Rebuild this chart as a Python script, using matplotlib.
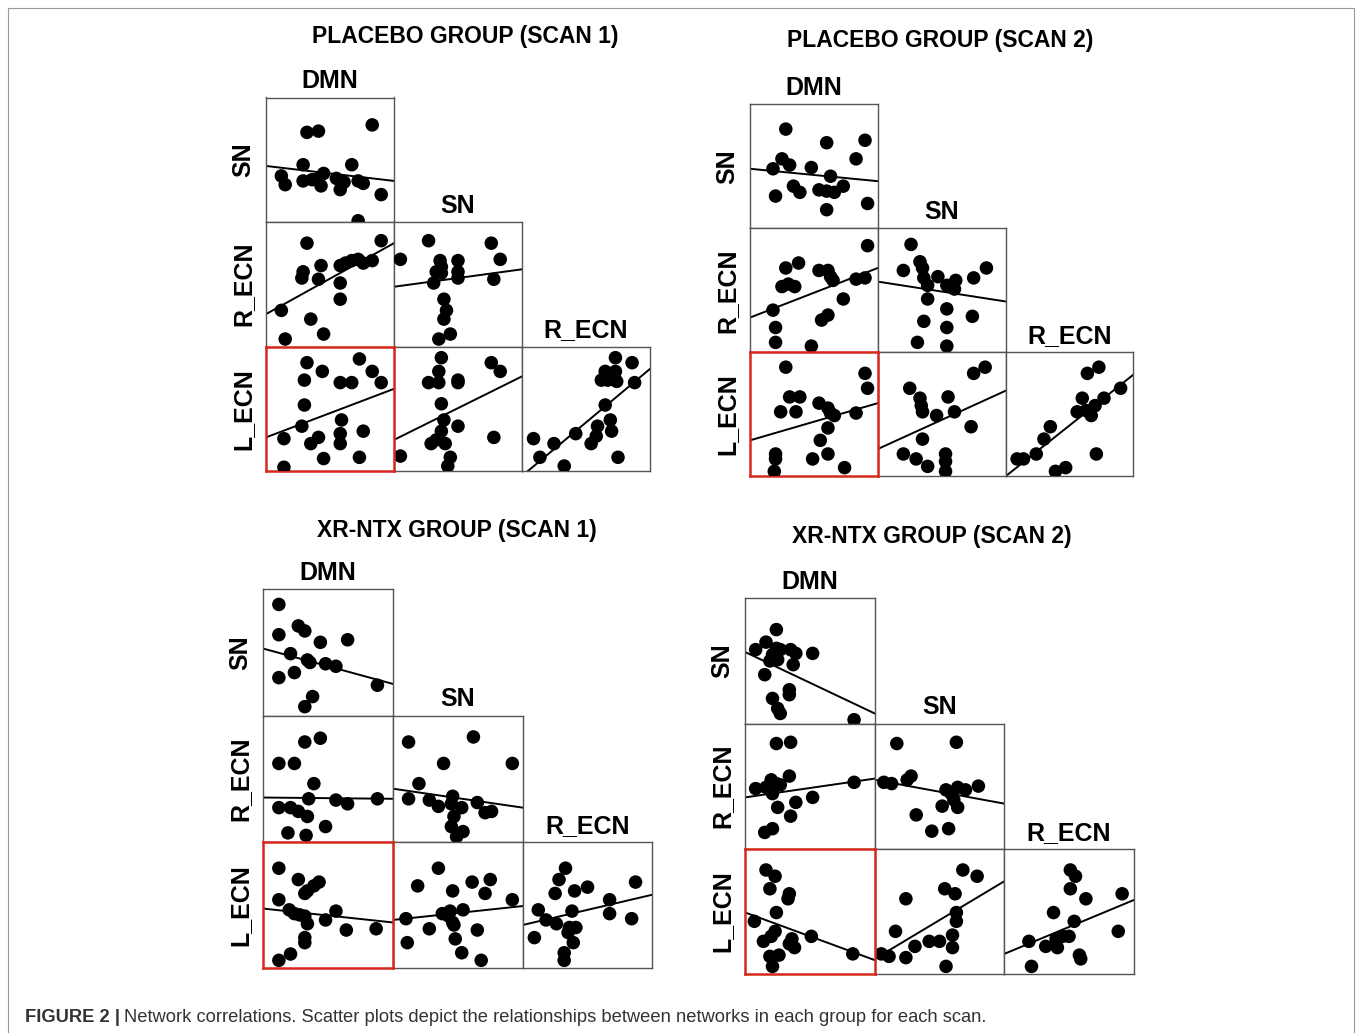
import matplotlib
matplotlib.use("Agg")
import matplotlib.pyplot as plt
from matplotlib.patches import Rectangle

W, H = 1357, 1033
plt.rcParams['font.family'] = ['Liberation Sans', 'DejaVu Sans']

networks = ["DMN", "SN", "R_ECN", "L_ECN"]

# values, 0-100 scale inside each cell: (x values, y values)
# placebo group, scan 1
pbo1_sn_dmn = ([32, 41, 83, 29, 67, 12, 15, 29, 36, 45, 43, 55, 58, 61, 72, 76, 90, 72, 41],
               [72, 73, 78, 46, 46, 37, 30, 33, 34, 39, 29, 35, 26, 32, 33, 31, 22, 1, 35])
pbo1_recn_dmn = ([32, 90, 29, 28, 43, 41, 58, 62, 67, 72, 76, 83, 58, 58, 12, 35, 45, 15],
                 [83, 85, 60, 55, 65, 54, 65, 67, 69, 70, 67, 69, 51, 38, 29, 22, 10, 6])
pbo1_recn_sn = ([5, 27, 76, 83, 36, 37, 33, 37, 50, 50, 50, 31, 78, 39, 41, 39, 44, 35],
                [70, 85, 83, 70, 69, 64, 60, 59, 69, 60, 55, 51, 54, 38, 29, 22, 10, 6])
pbo1_lecn_dmn = ([32, 44, 73, 83, 90, 30, 58, 67, 30, 28, 59, 14, 35, 41, 58, 58, 76, 45, 73, 14],
                 [87, 80, 90, 80, 71, 73, 71, 71, 53, 36, 41, 26, 22, 27, 30, 22, 32, 10, 11, 3])
pbo1_lecn_sn = ([37, 35, 76, 83, 27, 35, 50, 50, 37, 39, 50, 37, 33, 40, 29, 78, 5, 44, 42],
                [91, 80, 87, 80, 71, 71, 73, 71, 54, 41, 36, 32, 25, 22, 22, 27, 12, 11, 4])
pbo1_lecn_recn = ([73, 86, 65, 73, 62, 67, 74, 88, 65, 69, 59, 70, 58, 54, 42, 25, 9, 14, 33, 75],
                  [91, 87, 80, 80, 73, 73, 72, 71, 53, 41, 36, 32, 28, 22, 30, 22, 26, 11, 4, 11])
# fitted line: value at left edge, value at right edge
pbo1_fits = [(45, 33), (26, 83), (48, 62), (27, 66), (25, 76), (-4, 82)]

# placebo group, scan 2
pbo2_sn_dmn = ([28, 60, 90, 83, 25, 18, 31, 48, 63, 34, 39, 54, 60, 66, 73, 20, 60, 92],
               [80, 69, 71, 56, 56, 48, 51, 49, 42, 34, 29, 31, 30, 29, 34, 26, 15, 20])
pbo2_recn_dmn = ([92, 28, 38, 54, 61, 63, 65, 25, 30, 35, 83, 90, 73, 18, 56, 61, 20, 20, 48],
                 [86, 68, 72, 66, 66, 61, 58, 53, 55, 53, 59, 60, 43, 34, 26, 30, 20, 8, 5])
pbo2_recn_sn = ([26, 20, 33, 35, 36, 39, 47, 54, 61, 60, 75, 85, 39, 54, 36, 54, 74, 31, 54],
                [87, 66, 73, 68, 60, 54, 61, 54, 58, 51, 60, 68, 43, 35, 25, 20, 29, 8, 5])
pbo2_lecn_dmn = ([28, 90, 92, 31, 39, 24, 36, 54, 61, 63, 66, 83, 61, 55, 61, 20, 20, 49, 74, 19],
                 [88, 83, 71, 64, 64, 52, 52, 59, 55, 51, 49, 51, 39, 29, 18, 18, 14, 14, 7, 4])
pbo2_lecn_sn = ([75, 84, 25, 33, 34, 35, 46, 55, 60, 73, 35, 20, 30, 39, 53, 53, 53],
                [83, 88, 71, 63, 57, 52, 49, 64, 52, 40, 30, 18, 14, 8, 18, 12, 4])
pbo2_lecn_recn = ([64, 73, 90, 60, 77, 70, 56, 63, 67, 35, 30, 24, 9, 14, 71, 39, 47],
                  [83, 88, 71, 63, 63, 57, 52, 53, 49, 40, 30, 18, 14, 14, 18, 4, 7])
pbo2_fits = [(48, 38), (28, 68), (57, 41), (29, 59), (22, 69), (0, 82)]

# XR-NTX group, scan 1
ntx1_sn_dmn = ([12, 12, 27, 32, 44, 65, 21, 34, 36, 48, 56, 12, 24, 88, 38, 32],
               [88, 64, 71, 67, 58, 60, 49, 44, 42, 41, 39, 30, 34, 24, 15, 7])
ntx1_recn_dmn = ([32, 44, 12, 24, 39, 35, 56, 65, 88, 12, 21, 27, 34, 48, 19, 33],
                 [79, 82, 62, 62, 46, 34, 33, 30, 34, 27, 27, 24, 20, 12, 7, 5])
ntx1_recn_sn = ([12, 62, 39, 92, 20, 12, 28, 35, 46, 45, 53, 65, 71, 76, 47, 45, 54, 49],
                [79, 83, 62, 62, 46, 34, 33, 28, 36, 30, 27, 31, 23, 24, 20, 12, 8, 4])
ntx1_lecn_dmn = ([12, 27, 43, 39, 34, 32, 12, 20, 24, 28, 32, 34, 56, 48, 64, 87, 32, 32, 21, 12],
                 [79, 70, 68, 65, 61, 59, 54, 46, 43, 42, 41, 35, 45, 38, 30, 31, 24, 20, 11, 6])
ntx1_lecn_sn = ([35, 19, 46, 61, 75, 71, 92, 10, 38, 44, 54, 43, 46, 47, 28, 65, 11, 48, 53, 68],
                [79, 65, 61, 68, 70, 59, 54, 39, 43, 45, 46, 41, 36, 34, 31, 30, 20, 23, 12, 6])
ntx1_lecn_recn = ([33, 28, 25, 40, 50, 87, 12, 18, 26, 38, 67, 67, 84, 36, 41, 35, 9, 39, 32, 32],
                  [79, 70, 59, 61, 64, 68, 46, 38, 35, 45, 54, 43, 39, 32, 32, 28, 24, 20, 12, 6])
ntx1_fits = [(53, 25), (35, 34), (42, 27), (47, 36), (38, 49), (34, 58)]

# XR-NTX group, scan 2
ntx2_sn_dmn = ([24, 8, 16, 24, 27, 35, 39, 52, 21, 19, 25, 37, 15, 21, 34, 34, 25, 27, 84],
               [75, 59, 65, 60, 59, 59, 56, 56, 55, 50, 51, 47, 39, 20, 27, 23, 12, 8, 3])
ntx2_recn_dmn = ([24, 35, 8, 16, 20, 24, 21, 27, 34, 84, 52, 25, 39, 35, 15, 21],
                 [84, 85, 48, 49, 55, 52, 44, 51, 58, 53, 41, 33, 37, 26, 13, 16])
ntx2_recn_sn = ([17, 63, 7, 13, 25, 28, 55, 59, 64, 70, 80, 61, 52, 64, 32, 44, 57],
                [84, 85, 53, 52, 55, 58, 47, 44, 49, 47, 50, 39, 34, 33, 27, 14, 16])
ntx2_lecn_dmn = ([16, 23, 19, 34, 33, 24, 7, 23, 20, 14, 36, 38, 51, 34, 83, 19, 26, 21],
                 [83, 78, 68, 64, 60, 49, 42, 34, 30, 26, 28, 21, 30, 24, 16, 14, 15, 6])
ntx2_lecn_sn = ([68, 79, 24, 54, 62, 63, 63, 16, 60, 50, 42, 60, 31, 5, 11, 24, 55],
                [83, 78, 60, 68, 64, 49, 42, 34, 31, 26, 26, 21, 22, 16, 14, 13, 6])
ntx2_lecn_recn = ([51, 55, 51, 63, 91, 38, 54, 19, 32, 41, 40, 45, 50, 88, 58, 59, 21],
                  [83, 78, 68, 60, 64, 49, 42, 26, 22, 21, 28, 30, 30, 34, 15, 12, 6])
ntx2_fits = [(57, 8), (41, 56), (55, 36), (49, 11), (12, 74), (16, 59)]

fig = plt.figure(figsize=(W / 100, H / 100), dpi=100)

# outer frame of the figure
fig.add_artist(Rectangle((8 / W, -0.05), (1354 - 8) / W, 1 - 8 / H + 0.05,
                         transform=fig.transFigure, fill=False,
                         edgecolor='#9a9a9a', lw=0.8))

# (row variable, column variable) of the lower-triangle cells
pairs = [(1, 0), (2, 0), (2, 1), (3, 0), (3, 1), (3, 2)]


def draw_panel(title, title_xy, x0, y0, cw, ch, cells, fits):
    for (r, c), (xs, ys), (fl, fr) in zip(pairs, cells, fits):
        left = x0 + c * cw
        top = y0 + (r - 1) * ch
        ax = fig.add_axes([left / W, 1 - (top + ch) / H, cw / W, ch / H])
        ax.scatter(xs, ys, s=95, color='black', edgecolors='none', zorder=3)
        ax.plot([0, 100], [fl, fr], color='black', lw=1.4, zorder=2)
        ax.set_xlim(0, 100)
        ax.set_ylim(0, 100)
        ax.set_xticks([])
        ax.set_yticks([])
        red = (r == 3 and c == 0)
        for sp in ax.spines.values():
            sp.set_color('#d7281e' if red else '#555555')
            sp.set_linewidth(1.8 if red else 1.0)
        if red:
            ax.set_zorder(5)
        if c == 0:
            fig.text((x0 - 23) / W, 1 - (top + ch / 2) / H, networks[r], rotation=90,
                     ha='center', va='center', fontsize=18, fontweight='bold')
        if r == c + 1:
            fig.text((left + cw / 2) / W, 1 - (top - 4) / H, networks[c],
                     ha='center', va='bottom', fontsize=18, fontweight='bold')
    fig.text(title_xy[0] / W, 1 - title_xy[1] / H, title, ha='center', va='center',
             fontsize=16.5, fontweight='bold')


draw_panel("PLACEBO GROUP (SCAN 1)", (465, 36), 266, 97.5, 128, 124.5,
           [pbo1_sn_dmn, pbo1_recn_dmn, pbo1_recn_sn, pbo1_lecn_dmn, pbo1_lecn_sn, pbo1_lecn_recn],
           pbo1_fits)
draw_panel("PLACEBO GROUP (SCAN 2)", (940, 40), 750, 104.3, 127.8, 124,
           [pbo2_sn_dmn, pbo2_recn_dmn, pbo2_recn_sn, pbo2_lecn_dmn, pbo2_lecn_sn, pbo2_lecn_recn],
           pbo2_fits)
draw_panel("XR-NTX GROUP (SCAN 1)", (457, 531), 263.3, 589.3, 129.7, 126.2,
           [ntx1_sn_dmn, ntx1_recn_dmn, ntx1_recn_sn, ntx1_lecn_dmn, ntx1_lecn_sn, ntx1_lecn_recn],
           ntx1_fits)
draw_panel("XR-NTX GROUP (SCAN 2)", (932, 536), 745.3, 598.3, 129.5, 125.2,
           [ntx2_sn_dmn, ntx2_recn_dmn, ntx2_recn_sn, ntx2_lecn_dmn, ntx2_lecn_sn, ntx2_lecn_recn],
           ntx2_fits)

# caption
cap = fig.text(25 / W, 1 - 1018 / H, "FIGURE 2 |", fontsize=13.2, fontweight='bold',
               color='#333333', va='center')
fig.canvas.draw()
bb = cap.get_window_extent()
fig.text((bb.x1 + 4) / W, 1 - 1018 / H,
         "Network correlations. Scatter plots depict the relationships between networks in each group for each scan.",
         fontsize=13.2, color='#333333', va='center')

fig.savefig("out.png", dpi=100)
